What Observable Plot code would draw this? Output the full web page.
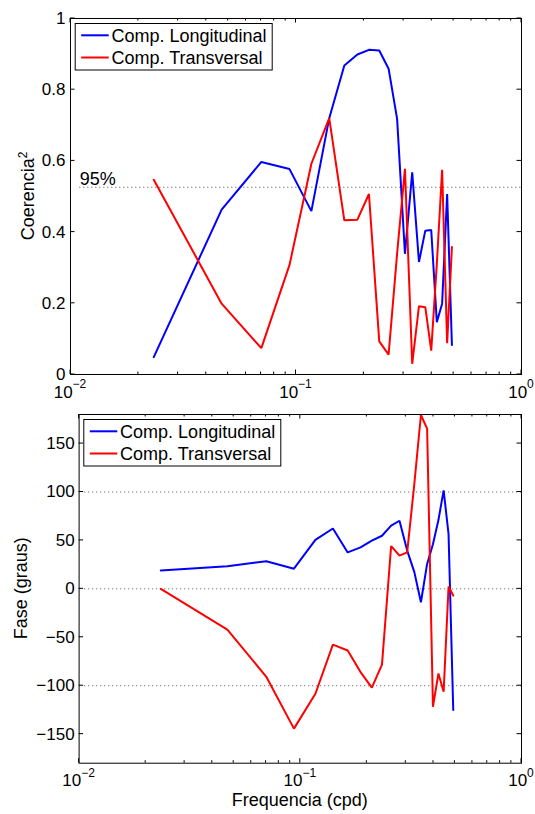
<!DOCTYPE html>
<html><head><meta charset="utf-8">
<script src="https://cdn.jsdelivr.net/npm/d3@7"></script>
<script src="https://cdn.jsdelivr.net/npm/@observablehq/plot@0.6"></script>
<style>
body{margin:0;background:#fff;}
#chart svg{display:block;}
</style>
</head><body><div id="chart"></div>
<script>
// ---- data ----
const freq = [0.0234, 0.0468, 0.0702, 0.0936, 0.117, 0.1404, 0.1638, 0.1872, 0.2106, 0.234, 0.2574,
              0.2808, 0.3042, 0.3276, 0.351, 0.3744, 0.3978, 0.4212, 0.4446, 0.468, 0.4914];
const cohLong  = [0.049, 0.463, 0.597, 0.577, 0.459, 0.72, 0.868, 0.899, 0.912, 0.910, 0.859,
                  0.718, 0.339, 0.568, 0.316, 0.404, 0.406, 0.147, 0.199, 0.507, 0.083];
const cohTrans = [0.547, 0.199, 0.074, 0.308, 0.592, 0.72, 0.433, 0.435, 0.507, 0.093, 0.056,
                  0.34, 0.578, 0.030, 0.192, 0.189, 0.067, 0.31, 0.575, 0.088, 0.358];
const phaseLong  = [19, 23.4, 28.5, 20.8, 50.5, 62.3, 37.6, 42.8, 49.8, 54.8, 65.3,
                    70.3, 39.5, 17.5, -13.8, 25.7, 46, 71, 101.7, 56.5, -125];
const phaseTrans = [0, -42, -90.8, -144.3, -108.3, -57.6, -63.6, -85.9, -102, -78.3, 44.2,
                    34.3, 37.7, 108, 179.5, 165.5, -121.7, -87.4, -106.2, 2.4, -6.9];
const seriesNames = ["Comp. Longitudinal", "Comp. Transversal"];
const seriesColors = ["#0000ff", "#ff0000"];
const xDomain = [0.01, 1];
const xMajor = [0.01, 0.1, 1];
const xExp = ["\u22122", "\u22121", "0"];
const xMinor = [0.02, 0.03, 0.04, 0.05, 0.06, 0.07, 0.08, 0.09, 0.2, 0.3, 0.4, 0.5, 0.6, 0.7, 0.8, 0.9];
const cohTicks = [0, 0.2, 0.4, 0.6, 0.8, 1];
const phaseTicks = [-150, -100, -50, 0, 50, 100, 150];
const phaseGrid = [-100, 0, 100];
const conf95 = [0.526];
const confLabel = "95%";
const xTitle = "Frequencia (cpd)";

const FONT = "'Liberation Sans', Arial, Helvetica, sans-serif";

function rows(vals) { return freq.map((f, i) => ({f, v: vals[i]})); }

function frameTicks(majX, minX, ticksY, majLen, minLen) {
  return (index, {x, y}, values, d) => {
    const x0 = d.marginLeft, x1 = d.width - d.marginRight;
    const y0 = d.marginTop, y1 = d.height - d.marginBottom;
    const p = d3.path();
    for (const t of majX) { const px = x(t); p.moveTo(px, y1); p.lineTo(px, y1 - majLen); p.moveTo(px, y0); p.lineTo(px, y0 + majLen); }
    for (const t of minX) { const px = x(t); p.moveTo(px, y1); p.lineTo(px, y1 - minLen); p.moveTo(px, y0); p.lineTo(px, y0 + minLen); }
    for (const t of ticksY) { const py = y(t); p.moveTo(x0, py); p.lineTo(x0 + majLen, py); p.moveTo(x1, py); p.lineTo(x1 - majLen, py); }
    const g = d3.create("svg:g");
    g.append("path").attr("d", p.toString()).attr("stroke", "black").attr("stroke-width", 1).attr("fill", "none");
    return g.node();
  };
}

function xLabels(title) {
  return (index, {x}, values, d) => {
    const yb = d.height - d.marginBottom;
    const g = d3.create("svg:g").attr("font-family", FONT).attr("fill", "black");
    xMajor.forEach((t, i) => {
      const tx = g.append("text").attr("x", x(t)).attr("y", yb + 23.5).attr("text-anchor", "middle").attr("font-size", 17);
      tx.append("tspan").text("10");
      tx.append("tspan").attr("dy", -9.5).attr("font-size", 12).text(xExp[i]);
    });
    if (title) {
      g.append("text").attr("x", (d.marginLeft + d.width - d.marginRight) / 2).attr("y", yb + 43)
        .attr("text-anchor", "middle").attr("font-size", 18).text(title);
    }
    return g.node();
  };
}

function yLabel(text, sup, baseX) {
  return (index, scales, values, d) => {
    const cy = (d.marginTop + d.height - d.marginBottom) / 2;
    const g = d3.create("svg:g").attr("font-family", FONT).attr("fill", "black");
    const t = g.append("text").attr("transform", `translate(${baseX},${cy}) rotate(-90)`)
      .attr("text-anchor", "middle").attr("font-size", 18);
    t.append("tspan").text(text);
    if (sup) t.append("tspan").attr("dy", -7).attr("font-size", 12).text(sup);
    return g.node();
  };
}

function legend() {
  return (index, scales, values, d) => {
    const g = d3.create("svg:g").attr("transform", `translate(${d.marginLeft + 5.2},${d.marginTop + 5.5})`)
      .attr("font-family", FONT).attr("text-anchor", "start");
    g.append("rect").attr("width", 197).attr("height", 46.5).attr("fill", "white").attr("stroke", "black").attr("stroke-width", 1);
    seriesNames.forEach((n, i) => {
      const ly = 11.8 + i * 22.2;
      g.append("line").attr("x1", 6).attr("x2", 33.5).attr("y1", ly).attr("y2", ly)
        .attr("stroke", seriesColors[i]).attr("stroke-width", 2);
      g.append("text").attr("x", 36.3).attr("y", ly + 6.8).attr("font-size", 18)
        .attr("text-anchor", "start").attr("fill", "black").text(n);
    });
    return g.node();
  };
}

const common = {
  width: 535,
  style: {fontFamily: FONT, fontSize: "17px", background: "white", color: "black", overflow: "visible"}
};

const topPlot = Plot.plot({
  ...common,
  height: 400,
  marginTop: 18, marginBottom: 26, marginLeft: 70, marginRight: 14,
  x: {type: "log", domain: xDomain, axis: null},
  y: {domain: [0, 1]},
  marks: [
    Plot.ruleY(conf95, {x1: 0.011, x2: 1, stroke: "#444", strokeWidth: 1, strokeDasharray: "1,3"}),
    Plot.text(conf95, {x: 0.011, y: d => d, text: () => confLabel, textAnchor: "start", lineAnchor: "bottom", dy: -2.5, fontSize: 18, fill: "black"}),
    Plot.line(rows(cohLong), {x: "f", y: "v", stroke: seriesColors[0], strokeWidth: 2, strokeLinejoin: "miter"}),
    Plot.line(rows(cohTrans), {x: "f", y: "v", stroke: seriesColors[1], strokeWidth: 2, strokeLinejoin: "miter"}),
    Plot.axisY({ticks: cohTicks, tickSize: 0, tickPadding: 5, tickFormat: d3.format(""), fontSize: 17, label: null}),
    frameTicks(xMajor, xMinor, cohTicks, 4.5, 2.5),
    Plot.frame({stroke: "black", strokeWidth: 1}),
    xLabels(null),
    yLabel("Coerencia", "2", 34),
    legend()
  ]
});

const bottomPlot = Plot.plot({
  ...common,
  height: 414,
  marginTop: 14, marginBottom: 51.3, marginLeft: 78.6, marginRight: 14,
  x: {type: "log", domain: xDomain, axis: null},
  y: {domain: [-180, 180]},
  marks: [
    Plot.ruleY(phaseGrid, {x1: 0.0106, x2: 1, stroke: "#555", strokeWidth: 1, strokeDasharray: "1,3"}),
    Plot.line(rows(phaseLong), {x: "f", y: "v", stroke: seriesColors[0], strokeWidth: 2, strokeLinejoin: "miter", clip: true}),
    Plot.line(rows(phaseTrans), {x: "f", y: "v", stroke: seriesColors[1], strokeWidth: 2, strokeLinejoin: "miter", clip: true}),
    Plot.axisY({ticks: phaseTicks, tickSize: 0, tickPadding: 4.5, tickFormat: d3.format(""), fontSize: 17, label: null}),
    frameTicks(xMajor, xMinor, phaseTicks, 4.5, 2.5),
    Plot.frame({stroke: "black", strokeWidth: 1}),
    xLabels(xTitle),
    yLabel("Fase (graus)", null, 26.5),
    legend()
  ]
});

document.getElementById("chart").append(topPlot, bottomPlot);
</script>
</body></html>
